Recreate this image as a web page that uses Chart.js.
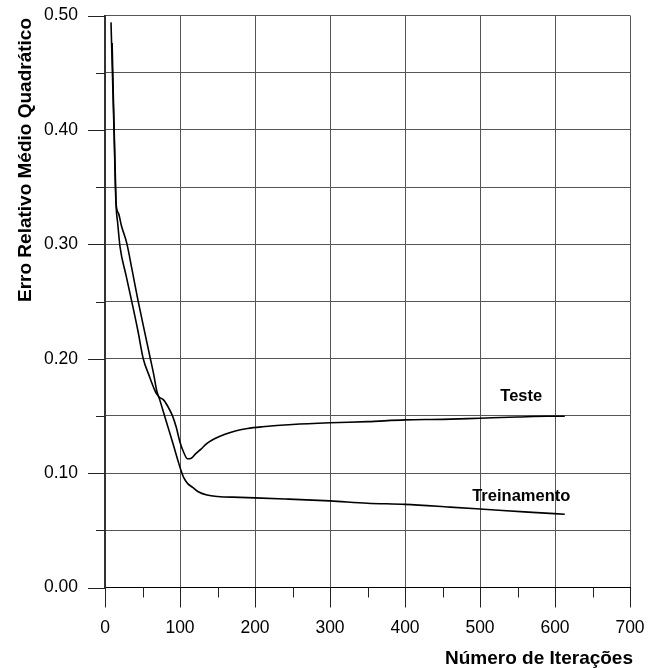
<!DOCTYPE html>
<html>
<head>
<meta charset="utf-8">
<script src="https://cdn.jsdelivr.net/npm/chart.js@4/dist/chart.umd.min.js"></script>
<style>
  html, body { margin: 0; padding: 0; background: #fff; }
  #wrap { width: 656px; height: 668px; }
</style>
</head>
<body>
<div id="wrap"><canvas id="chart" width="656" height="668"></canvas></div>
<script>
// data
const testeX = [9.5, 14.7, 17, 20, 28, 36, 44, 51, 59, 66, 69, 73, 78, 84, 90, 95, 100, 105, 110, 115, 121, 128, 136, 146, 160, 175, 190, 210, 250, 300, 350, 400, 450, 500, 550, 590, 613];
const testeY = [0.476, 0.336, 0.318, 0.298, 0.273, 0.249, 0.224, 0.200, 0.185, 0.173, 0.169, 0.166, 0.164, 0.158, 0.150, 0.140, 0.127, 0.118, 0.1125, 0.113, 0.117, 0.121, 0.126, 0.130, 0.134, 0.137, 0.139, 0.1405, 0.1425, 0.144, 0.145, 0.1465, 0.147, 0.148, 0.149, 0.1497, 0.1497];

const treinoX = [8, 10, 12, 14.7, 18, 22, 29, 36, 44, 52, 60, 65, 69, 73, 79, 85, 91, 97, 101, 105, 110, 117, 125, 136, 150, 180, 240, 300, 350, 400, 460, 530, 570, 613];
const treinoY = [0.494, 0.447, 0.40, 0.336, 0.327, 0.316, 0.301, 0.278, 0.251, 0.226, 0.2015, 0.186, 0.172, 0.164, 0.151, 0.138, 0.125, 0.1115, 0.103, 0.096, 0.091, 0.0875, 0.0835, 0.0808, 0.0795, 0.0788, 0.0774, 0.0757, 0.0737, 0.0727, 0.0703, 0.0673, 0.0657, 0.064];

const seriesNames = ['Teste', 'Treinamento'];
const labelPos = [[555, 0.1674], [555, 0.080]];

const xTitle = 'Número de Iterações';
const yTitle = 'Erro Relativo Médio Quadrático';

const FONT = '"Liberation Sans", Arial, sans-serif';

const toPoints = (xs, ys) => xs.map((x, i) => ({ x: x, y: ys[i] }));

const isMajorY = v => Math.abs(Math.round(v * 100) % 10) === 0;
const isMajorX = v => Math.round(v) % 100 === 0;

// tick marks, series labels and axis titles
const extras = {
  id: 'extras',
  afterDraw(chart) {
    const ctx = chart.ctx;
    const xs = chart.scales.x, ys = chart.scales.y;
    const a = chart.chartArea;
    ctx.save();
    ctx.strokeStyle = '#222';
    ctx.lineWidth = 1;
    ys.ticks.forEach(t => {
      const py = Math.round(ys.getPixelForValue(t.value)) + 0.5;
      const len = isMajorY(t.value) ? 17 : 9;
      ctx.beginPath();
      ctx.moveTo(a.left - len, py);
      ctx.lineTo(a.left, py);
      ctx.stroke();
    });
    xs.ticks.forEach(t => {
      const px = Math.round(xs.getPixelForValue(t.value)) + 0.5;
      const len = isMajorX(t.value) ? 20 : 10;
      ctx.beginPath();
      ctx.moveTo(px, a.bottom);
      ctx.lineTo(px, a.bottom + len);
      ctx.stroke();
    });

    ctx.fillStyle = '#000';
    ctx.font = 'bold 16.5px ' + FONT;
    ctx.textAlign = 'center';
    ctx.textBaseline = 'middle';
    seriesNames.forEach((n, i) => {
      ctx.fillText(n, xs.getPixelForValue(labelPos[i][0]), ys.getPixelForValue(labelPos[i][1]));
    });

    ctx.font = 'bold 19px ' + FONT;
    ctx.textAlign = 'right';
    ctx.textBaseline = 'alphabetic';
    ctx.fillText(xTitle, 633, 663.5);

    ctx.translate(31, 18);
    ctx.rotate(-Math.PI / 2);
    ctx.textAlign = 'right';
    ctx.fillText(yTitle, 0, 0);
    ctx.restore();
  }
};

new Chart(document.getElementById('chart'), {
  type: 'line',
  data: {
    datasets: [
      { label: seriesNames[0], data: toPoints(testeX, testeY) },
      { label: seriesNames[1], data: toPoints(treinoX, treinoY) }
    ]
  },
  options: {
    responsive: false,
    animation: false,
    devicePixelRatio: 1,
    layout: { padding: { top: 15.5, right: 26, left: 0, bottom: 0 } },
    elements: {
      line: { borderColor: '#000', borderWidth: 1.6, cubicInterpolationMode: 'monotone', fill: false },
      point: { radius: 0, hoverRadius: 0 }
    },
    plugins: { legend: { display: false }, tooltip: { enabled: false } },
    scales: {
      x: {
        type: 'linear',
        min: 0, max: 700,
        afterFit: s => { s.height = 80.5; },
        ticks: {
          stepSize: 50,
          autoSkip: false,
          maxRotation: 0,
          padding: 0,
          color: '#000',
          font: { family: FONT, size: 17.5 },
          callback: v => isMajorX(v) ? String(v) : ''
        },
        grid: {
          drawTicks: true,
          tickLength: 30,
          tickColor: 'rgba(0,0,0,0)',
          lineWidth: 1,
          color: c => (c.tick && isMajorX(c.tick.value)) ? '#555' : 'rgba(0,0,0,0)'
        },
        border: { display: true, color: '#000', width: 1 }
      },
      y: {
        min: 0, max: 0.5,
        afterFit: s => { s.width = 105; },
        ticks: {
          stepSize: 0.05,
          autoSkip: false,
          padding: 0,
          color: '#000',
          font: { family: FONT, size: 17.5 },
          callback: v => isMajorY(v) ? v.toFixed(2) : ''
        },
        grid: {
          drawTicks: true,
          tickLength: 27,
          tickColor: 'rgba(0,0,0,0)',
          lineWidth: 1,
          color: '#555'
        },
        border: { display: true, color: '#333', width: 2 }
      }
    }
  },
  plugins: [extras]
});
</script>
</body>
</html>
